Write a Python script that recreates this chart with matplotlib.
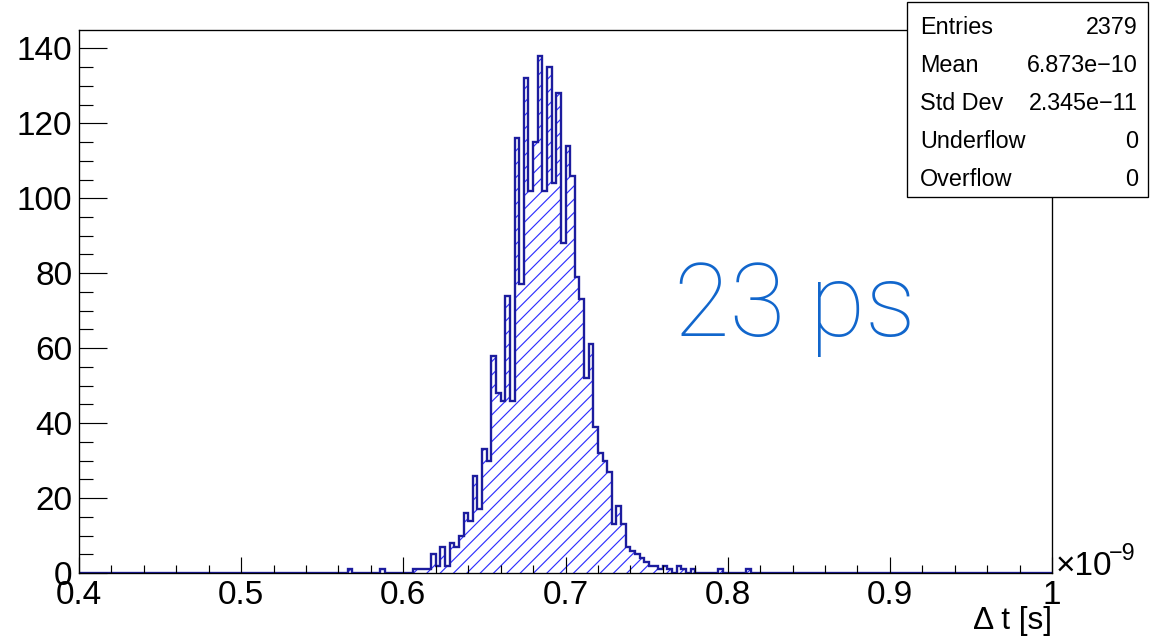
import numpy as np
import matplotlib
matplotlib.use("Agg")
import matplotlib.pyplot as plt
from matplotlib.ticker import MultipleLocator, FuncFormatter
from matplotlib.patches import Rectangle

plt.rcParams['font.family'] = ['Liberation Sans', 'DejaVu Sans']
plt.rcParams['hatch.linewidth'] = 0.7

# histogram: 210 bins from 0.4 to 1.0 (x 1e-9 s), filled bins start at bin 58
n_bins = 210
x_lo, x_hi = 0.4, 1.0
first_bin = 58
counts = [1, 0, 0, 0, 0, 0, 0, 1, 0, 0,          # 58-67
          0, 0, 0, 0, 1, 1, 1, 1, 5, 2,          # 68-77
          7, 2, 8, 7, 10, 16, 14, 26, 17, 33,    # 78-87
          30, 58, 48, 46, 74, 46, 116, 77, 132, 102,   # 88-97
          115, 138, 102, 135, 104, 128, 88, 114, 106, 79,  # 98-107
          73, 52, 61, 39, 32, 30, 27, 13, 18, 13,  # 108-117
          7, 6, 5, 4, 3, 2, 2, 1, 2, 1,          # 118-127
          0, 2, 1, 0, 1, 0, 0, 0, 0, 0,          # 128-137
          1, 0, 0, 0, 0, 0, 1]                   # 138-144

stat_names = ["Entries", "Mean", "Std Dev", "Underflow", "Overflow"]
stat_values = ["2379", "6.873e\u221210", "2.345e\u221211", "0", "0"]

values = np.zeros(n_bins)
values[first_bin:first_bin + len(counts)] = counts
edges = np.linspace(x_lo, x_hi, n_bins + 1)

W, H = 1151, 637
fig = plt.figure(figsize=(W / 120, H / 120), dpi=120)
ax = fig.add_axes([79 / W, 1 - 573 / H, (1052 - 79) / W, (573 - 30) / H])

# hatched fill, then the outline on top
ax.stairs(values, edges, fill=True, facecolor='none', edgecolor='#2f2fff',
          hatch='///', linewidth=0)
ax.stairs(values, edges, fill=False, color='#1c1c9e', linewidth=1.4)

ax.set_xlim(x_lo, x_hi)
ax.set_ylim(0, 1.05 * max(counts))

ax.xaxis.set_major_locator(MultipleLocator(0.1))
ax.xaxis.set_minor_locator(MultipleLocator(0.02))
ax.yaxis.set_major_locator(MultipleLocator(20))
ax.yaxis.set_minor_locator(MultipleLocator(5))
ax.xaxis.set_major_formatter(FuncFormatter(lambda v, p: '%g' % round(v, 3)))
ax.yaxis.set_major_formatter(FuncFormatter(lambda v, p: '%g' % v))

ax.tick_params(axis='both', which='both', direction='in', width=0.7,
               labelsize=20, top=False, right=False)
ax.tick_params(axis='y', which='major', length=17, pad=4)
ax.tick_params(axis='y', which='minor', length=8.5)
ax.tick_params(axis='x', which='major', length=9.5, pad=4)
ax.tick_params(axis='x', which='minor', length=5)
for s in ax.spines.values():
    s.set_linewidth(0.8)

# axis title and exponent
fig.text(1052 / W, 1 - 629 / H, '\u0394 t [s]', ha='right', va='baseline', fontsize=19)
fig.text(1056 / W, 1 - 575 / H, '\u00d710', ha='left', va='baseline', fontsize=20)
fig.text(1109 / W, 1 - 560 / H, '\u22129', ha='left', va='baseline', fontsize=14)

# annotation
ax.text(0.611, 0.437, '23 ps', transform=ax.transAxes, fontsize=61,
        family=['Roboto', 'DejaVu Sans'], fontweight='light',
        color='#1166cc', ha='left', va='baseline')

# stats box
bx0, bx1, by0, by1 = 907, 1148, 2, 197
fig.add_artist(Rectangle((bx0 / W, 1 - by1 / H), (bx1 - bx0) / W, (by1 - by0) / H,
                         transform=fig.transFigure, facecolor='white',
                         edgecolor='black', linewidth=0.8, zorder=10))
for i, (name, val) in enumerate(zip(stat_names, stat_values)):
    yc = 1 - (by0 + 25 + 38.2 * i) / H
    fig.text(920 / W, yc, name, ha='left', va='center', fontsize=14, zorder=11)
    fig.text(1138 / W, yc, val, ha='right', va='center', fontsize=14, zorder=11)

fig.savefig('out.png', dpi=120)
